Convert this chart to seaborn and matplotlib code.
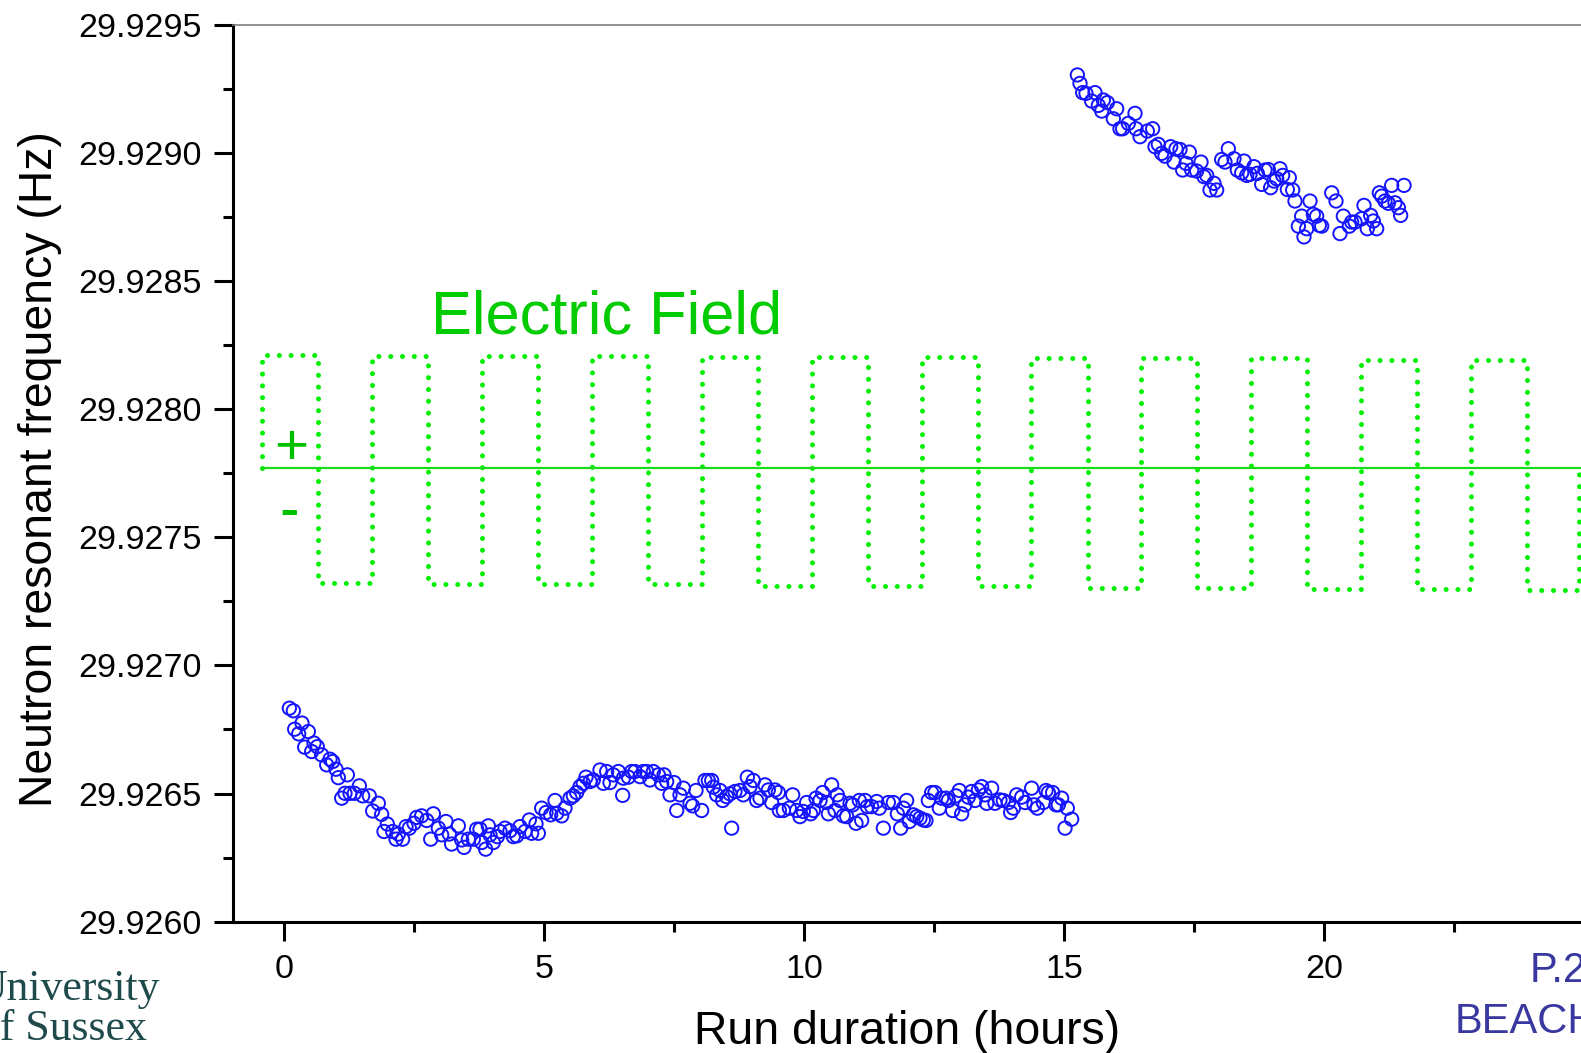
import numpy as np
import pandas as pd
import seaborn as sns
import matplotlib
matplotlib.use("Agg")
import matplotlib.pyplot as plt
from matplotlib.ticker import MultipleLocator, FormatStrFormatter

# ---------------- data ----------------
lower_hours = [
    0.103, 0.180, 0.205, 0.282, 0.346, 0.397, 0.468, 0.532, 0.577, 0.641, 0.724, 0.821, 0.885, 0.936,
    1.000, 1.045, 1.109, 1.173, 1.218, 1.269, 1.353, 1.449, 1.513, 1.641, 1.705, 1.814, 1.878, 1.923,
    1.987, 2.090, 2.154, 2.199, 2.282, 2.346, 2.410, 2.500, 2.551, 2.647, 2.744, 2.821, 2.872, 2.968,
    3.032, 3.115, 3.179, 3.224, 3.353, 3.417, 3.462, 3.545, 3.641, 3.705, 3.769, 3.801, 3.878, 3.929,
    3.962, 4.026, 4.103, 4.154, 4.250, 4.346, 4.410, 4.474, 4.538, 4.635, 4.718, 4.763, 4.846, 4.891,
    4.955, 5.038, 5.128, 5.212, 5.244, 5.340, 5.404, 5.500, 5.564, 5.628, 5.692, 5.756, 5.808, 5.885,
    5.949, 6.077, 6.141, 6.205, 6.269, 6.333, 6.430, 6.513, 6.526, 6.622, 6.686, 6.750, 6.846, 6.910,
    6.974, 7.038, 7.103, 7.199,
    7.263, 7.308, 7.359, 7.423, 7.500, 7.552, 7.615, 7.680, 7.808, 7.859, 7.923, 8.032, 8.096, 8.160,
    8.225, 8.257, 8.321, 8.385, 8.436, 8.513, 8.577, 8.609, 8.673, 8.769, 8.833, 8.910, 8.962, 9.026,
    9.090, 9.154, 9.250, 9.314, 9.378, 9.442, 9.507, 9.526, 9.603, 9.718, 9.782, 9.859, 9.923, 9.987,
    10.051, 10.128, 10.180, 10.231, 10.308, 10.359, 10.436, 10.468, 10.532, 10.596, 10.641, 10.693,
    10.757, 10.821, 10.885, 10.936, 11.000, 11.064, 11.109, 11.173, 11.218, 11.301, 11.398, 11.449,
    11.526, 11.622, 11.718, 11.795, 11.859, 11.910, 11.974, 12.026, 12.103, 12.167, 12.231, 12.295,
    12.346, 12.391, 12.455, 12.519, 12.603, 12.647, 12.731, 12.776, 12.859, 12.923, 12.987, 13.032,
    13.096, 13.160, 13.224, 13.289, 13.353, 13.417, 13.481, 13.513, 13.609, 13.673, 13.769, 13.833,
    13.930, 13.974, 14.026, 14.090, 14.186, 14.250, 14.378, 14.423, 14.487, 14.603, 14.654, 14.699,
    14.782, 14.846, 14.891, 14.955, 15.020, 15.064, 15.148,
]
lower_freq = [
    29.926833, 29.926823, 29.926751, 29.926733, 29.926775, 29.926681, 29.926742, 29.926664, 29.926697,
    29.926683, 29.926651, 29.926612, 29.926634, 29.926625, 29.926595, 29.926562, 29.926482, 29.926501,
    29.926573, 29.926501, 29.926501, 29.926530, 29.926491, 29.926491, 29.926432, 29.926462, 29.926419,
    29.926352, 29.926381, 29.926352, 29.926322, 29.926342, 29.926322, 29.926371, 29.926365, 29.926384,
    29.926407, 29.926413, 29.926395, 29.926322, 29.926421, 29.926365, 29.926339, 29.926391, 29.926342,
    29.926303, 29.926374, 29.926319, 29.926290, 29.926322, 29.926322, 29.926361, 29.926361, 29.926309,
    29.926283, 29.926374, 29.926339, 29.926309, 29.926332, 29.926352, 29.926365, 29.926355, 29.926332,
    29.926335, 29.926371, 29.926352, 29.926397, 29.926345, 29.926382, 29.926345, 29.926443, 29.926426,
    29.926417, 29.926473, 29.926423, 29.926413, 29.926443, 29.926482, 29.926491, 29.926504, 29.926527,
    29.926540, 29.926564, 29.926547, 29.926553, 29.926592, 29.926540, 29.926586, 29.926543, 29.926573,
    29.926586, 29.926493, 29.926560, 29.926564, 29.926586, 29.926586, 29.926566, 29.926586, 29.926586,
    29.926553, 29.926586, 29.926573,
    29.926540, 29.926573, 29.926547, 29.926495, 29.926543, 29.926434, 29.926495, 29.926521, 29.926462,
    29.926452, 29.926512, 29.926434, 29.926551, 29.926551, 29.926551, 29.926525, 29.926495, 29.926512,
    29.926473, 29.926488, 29.926499, 29.926365, 29.926508, 29.926512, 29.926495, 29.926564, 29.926527,
    29.926551, 29.926473, 29.926482, 29.926534, 29.926514, 29.926465, 29.926514, 29.926504, 29.926434,
    29.926434, 29.926443, 29.926495, 29.926434, 29.926410, 29.926430, 29.926465, 29.926421, 29.926434,
    29.926482, 29.926473, 29.926504, 29.926465, 29.926421, 29.926534, 29.926434, 29.926495, 29.926473,
    29.926413, 29.926410, 29.926462, 29.926456, 29.926384, 29.926473, 29.926395, 29.926473, 29.926449,
    29.926449, 29.926469, 29.926443, 29.926365, 29.926465, 29.926465, 29.926421, 29.926365, 29.926443,
    29.926473, 29.926391, 29.926417, 29.926410, 29.926404, 29.926397, 29.926395, 29.926473, 29.926504,
    29.926504, 29.926443, 29.926482, 29.926482, 29.926473, 29.926434, 29.926491, 29.926512, 29.926421,
    29.926456, 29.926486, 29.926508, 29.926473, 29.926514, 29.926527, 29.926495, 29.926462, 29.926521,
    29.926462, 29.926475, 29.926473, 29.926465, 29.926426, 29.926443, 29.926495, 29.926486, 29.926465,
    29.926521, 29.926456, 29.926443, 29.926465, 29.926512, 29.926504, 29.926504, 29.926456, 29.926456,
    29.926482, 29.926365, 29.926443, 29.926400,
]

upper_hours = [
    15.257, 15.308, 15.359, 15.423, 15.532, 15.596, 15.660, 15.725, 15.757, 15.834, 15.949, 16.013,
    16.077, 16.128, 16.237, 16.366, 16.385, 16.462, 16.603, 16.705, 16.750, 16.814, 16.878, 16.942,
    17.052, 17.115, 17.154, 17.231, 17.282, 17.346, 17.410, 17.455, 17.551, 17.635, 17.692, 17.744,
    17.808, 17.885, 17.936, 18.032, 18.096, 18.160, 18.269, 18.333, 18.417, 18.462, 18.513, 18.577,
    18.654, 18.718, 18.802, 18.865, 18.930, 18.974, 19.039, 19.090, 19.154, 19.205, 19.295, 19.333,
    19.398, 19.442, 19.507, 19.571, 19.615, 19.667, 19.731, 19.795, 19.859, 19.910, 19.955, 20.148,
    20.231, 20.308, 20.372, 20.487, 20.532, 20.596, 20.724, 20.769, 20.833, 20.897, 20.949, 21.013,
    21.064, 21.109, 21.173, 21.237, 21.301, 21.365, 21.430, 21.474, 21.539,
]
upper_freq = [
    29.929304, 29.929271, 29.929235, 29.929232, 29.929202, 29.929235, 29.929185, 29.929163, 29.929206,
    29.929196, 29.929133, 29.929172, 29.929094, 29.929094, 29.929115, 29.929154, 29.929094, 29.929063,
    29.929085, 29.929094, 29.929024, 29.929033, 29.928998, 29.928987, 29.929024, 29.928964, 29.929016,
    29.929013, 29.928933, 29.928959, 29.929003, 29.928933, 29.928929, 29.928964, 29.928907, 29.928912,
    29.928855, 29.928881, 29.928855, 29.928974, 29.928964, 29.929016, 29.928977, 29.928933, 29.928922,
    29.928968, 29.928912, 29.928916, 29.928946, 29.928920, 29.928877, 29.928933, 29.928935, 29.928864,
    29.928890, 29.928899, 29.928938, 29.928912, 29.928857, 29.928903, 29.928855, 29.928812, 29.928714,
    29.928753, 29.928672, 29.928704, 29.928812, 29.928760, 29.928753, 29.928717, 29.928714, 29.928844,
    29.928812, 29.928685, 29.928753, 29.928714, 29.928730, 29.928730, 29.928743, 29.928795, 29.928704,
    29.928756, 29.928734, 29.928704, 29.928844, 29.928831, 29.928812, 29.928803, 29.928873, 29.928805,
    29.928786, 29.928756, 29.928873,
]

# electric field square wave (switch times in hours and plotted levels)
field_switch_hours = [-0.420, 0.650, 1.693, 2.770, 3.807, 4.885, 5.920, 7.000, 8.034, 9.112, 10.147,
                      11.226, 12.261, 13.340, 14.374, 15.453, 16.488, 17.566, 18.601, 19.670, 20.715,
                      21.790, 22.828, 23.905, 24.903]
field_high = [29.928212, 29.928206, 29.928206, 29.928206, 29.928202, 29.928202, 29.928202,
              29.928198, 29.928198, 29.928198, 29.928193, 29.928190]
field_low = [29.927323, 29.927316, 29.927316, 29.927316, 29.927308, 29.927308, 29.927308,
             29.927304, 29.927304, 29.927300, 29.927300, 29.927296]
field_zero = 29.927772

x_ticks = [0, 5, 10, 15, 20]

# ---------------- figure ----------------
sns.set_theme(style="white")
plt.rcParams["font.family"] = ["Liberation Sans", "DejaVu Sans"]

W, H = 1581, 1053
fig = plt.figure(figsize=(W / 100, H / 100), dpi=100)
fig.patch.set_facecolor("white")
ax = fig.add_axes([232.7 / W, (H - 921.7) / H, (W - 232.7) / W, (921.7 - 24.7) / H])
ax.set_facecolor("white")

def fx(px):
    return px / W

def fy(py):
    return 1 - py / H

# field step path
levels = []
for h, l in zip(field_high, field_low):
    levels += [h, l]
sx, sy = [field_switch_hours[0]], [field_zero]
prev = field_zero
for t, lv in zip(field_switch_hours, levels + [field_zero]):
    sx += [t, t]
    sy += [prev, lv]
    prev = lv
field_df = pd.DataFrame({"t": sx, "f": sy})
sns.lineplot(data=field_df, x="t", y="f", sort=False, estimator=None, ax=ax,
             color="#00f000", linewidth=3.6, linestyle=(0, (0.01, 2.35)),
             dash_capstyle="round", zorder=2)

# zero line
zero_df = pd.DataFrame({"t": [field_switch_hours[0], 26.0], "f": [field_zero, field_zero]})
sns.lineplot(data=zero_df, x="t", y="f", estimator=None, ax=ax, color="#18dc18",
             linewidth=1.6, zorder=2)

# data points
sns.scatterplot(x=lower_hours, y=lower_freq, ax=ax, marker="o", s=92,
                facecolor="none", edgecolor="#1414ff", linewidth=1.4, legend=False, zorder=3)
sns.scatterplot(x=upper_hours, y=upper_freq, ax=ax, marker="o", s=92,
                facecolor="none", edgecolor="#1414ff", linewidth=1.4, legend=False, zorder=3)

# axes
ax.set_xlim((232.7 - 284) / 52, (W - 284) / 52)
ax.set_ylim(29.926, 29.9295)
ax.set_xticks(x_ticks)
ax.xaxis.set_minor_locator(MultipleLocator(2.5))
ax.yaxis.set_major_locator(MultipleLocator(0.0005))
ax.yaxis.set_minor_locator(MultipleLocator(0.00025))
ax.yaxis.set_major_formatter(FormatStrFormatter("%.4f"))
ax.set_xlabel("")
ax.set_ylabel("")

for side in ["left", "bottom"]:
    ax.spines[side].set_color("black")
    ax.spines[side].set_linewidth(2.2)
ax.spines["top"].set_color("#7f7f7f")
ax.spines["top"].set_linewidth(1.2)
ax.spines["right"].set_visible(False)

ax.tick_params(axis="both", which="major", direction="out", length=13.7, width=2.2,
               color="black", labelsize=24.5, labelcolor="black", left=True, bottom=True)
ax.tick_params(axis="both", which="minor", direction="out", length=7.2, width=2.2,
               color="black", left=True, bottom=True)
ax.tick_params(axis="y", which="major", pad=8.6)
ax.tick_params(axis="x", which="major", pad=9.5)
ax.grid(False)

# labels
fig.text(fx(52.4), fy(469), "Neutron resonant frequency (Hz)", rotation=90,
         rotation_mode="anchor", ha="center", va="baseline", fontsize=33.4, color="black")
fig.text(fx(907), fy(1044), "Run duration (hours)", ha="center", va="baseline",
         fontsize=33.4, color="black")

# annotations
fig.text(fx(431), fy(334), "Electric Field", ha="left", va="baseline",
         fontsize=44.2, color="#00cc00")
fig.text(fx(290.7), fy(464), "+", ha="center", va="baseline", fontsize=42, color="#00c000")
fig.text(fx(289), fy(528), "-", ha="center", va="baseline", fontsize=42, color="#00c000")

# slide decorations (partly outside the slide, as in the source)
fig.text(fx(-25), fy(1000), "University", ha="left", va="baseline", fontsize=31.5,
         color="#1e4a4c", family=["Liberation Serif", "DejaVu Serif"])
fig.text(fx(-22), fy(1040), "of Sussex", ha="left", va="baseline", fontsize=31.5,
         color="#1e4a4c", family=["Liberation Serif", "DejaVu Serif"])
fig.text(fx(1530), fy(981.7), "P.2", ha="left", va="baseline", fontsize=30,
         color="#3838a0", family=["Liberation Sans Narrow", "Liberation Sans"])
fig.text(fx(1455), fy(1033), "BEACH", ha="left", va="baseline", fontsize=30,
         color="#3838a0", family=["Liberation Sans Narrow", "Liberation Sans"])

fig.savefig("out.png", dpi=100, facecolor="white")
